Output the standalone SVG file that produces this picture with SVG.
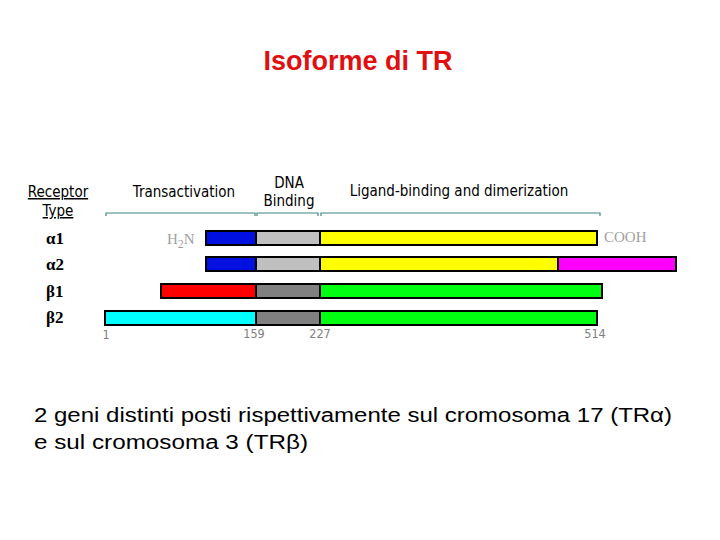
<svg xmlns="http://www.w3.org/2000/svg" width="720" height="540" viewBox="0 0 720 540">
<style>
.bar{stroke:#000;stroke-width:2}
.hdr{font-family:"DejaVu Sans Condensed","Liberation Sans",sans-serif;font-size:15px;fill:#000}
.row{font-family:"Liberation Serif",serif;font-weight:bold;font-size:17px;fill:#000}
.num{font-family:"DejaVu Sans Condensed","Liberation Sans",sans-serif;font-size:12.5px;fill:#808080}
.end{font-family:"Liberation Serif",serif;font-size:15px;fill:#a0a0a0}
.br{stroke:#3f8585;stroke-width:1.2;fill:none}
</style>
<rect width="720" height="540" fill="#fff"/>
<text x="358" y="70" text-anchor="middle" font-family="Liberation Sans,sans-serif" font-weight="bold" font-size="27" fill="#e01010">Isoforme di TR</text>

<g id="headers">
<text class="hdr" x="58" y="197" text-anchor="middle" text-decoration="underline">Receptor</text>
<text class="hdr" x="58" y="216" text-anchor="middle" text-decoration="underline">Type</text>
<text class="hdr" x="184" y="197" text-anchor="middle">Transactivation</text>
<text class="hdr" x="289" y="188" text-anchor="middle">DNA</text>
<text class="hdr" x="289" y="206" text-anchor="middle">Binding</text>
<text class="hdr" x="459" y="196" text-anchor="middle">Ligand-binding and dimerization</text>
</g>

<g id="connectors">
<path class="br" d="M106,216 V213 H255 V216 M257,216 V213 H318 V216 M321,216 V213 H600 V216"/>
</g>

<g id="alpha1">
<text class="row" x="46" y="244">α1</text>
<text class="end" x="167" y="244">H<tspan font-size="12" dy="4">2</tspan><tspan dy="-4">N</tspan></text>
<rect class="bar" x="206" y="231" width="50" height="14" fill="#0010e0"/>
<rect class="bar" x="256" y="231" width="64" height="14" fill="#c0c0c0"/>
<rect class="bar" x="320" y="231" width="277" height="14" fill="#ffff00"/>
<text class="end" x="604" y="242">COOH</text>
</g>

<g id="alpha2">
<text class="row" x="46" y="270">α2</text>
<rect class="bar" x="206" y="257" width="50" height="14" fill="#0010e0"/>
<rect class="bar" x="256" y="257" width="64" height="14" fill="#c0c0c0"/>
<rect class="bar" x="320" y="257" width="238" height="14" fill="#ffff00"/>
<rect class="bar" x="558" y="257" width="118" height="14" fill="#ff00ff"/>
</g>

<g id="beta1">
<text class="row" x="46" y="297">β1</text>
<rect class="bar" x="161" y="284" width="95" height="14" fill="#ff0000"/>
<rect class="bar" x="256" y="284" width="64" height="14" fill="#808080"/>
<rect class="bar" x="320" y="284" width="282" height="14" fill="#00ff10"/>
</g>

<g id="beta2">
<text class="row" x="46" y="323">β2</text>
<rect class="bar" x="105" y="311" width="151" height="14" fill="#00ffff"/>
<rect class="bar" x="256" y="311" width="64" height="14" fill="#808080"/>
<rect class="bar" x="320" y="311" width="277" height="14" fill="#00ff10"/>
</g>

<g id="numbers">
<text class="num" x="106" y="339" text-anchor="middle">1</text>
<text class="num" x="254" y="338" text-anchor="middle">159</text>
<text class="num" x="320" y="338" text-anchor="middle">227</text>
<text class="num" x="595" y="338" text-anchor="middle">514</text>
</g>

<g id="caption" font-family="Liberation Sans,sans-serif" font-size="20" fill="#000">
<text x="34" y="422" textLength="638" lengthAdjust="spacingAndGlyphs">2 geni distinti posti rispettivamente sul cromosoma 17 (TRα)</text>
<text x="34" y="449" textLength="274" lengthAdjust="spacingAndGlyphs">e sul cromosoma 3 (TRβ)</text>
</g>
</svg>
